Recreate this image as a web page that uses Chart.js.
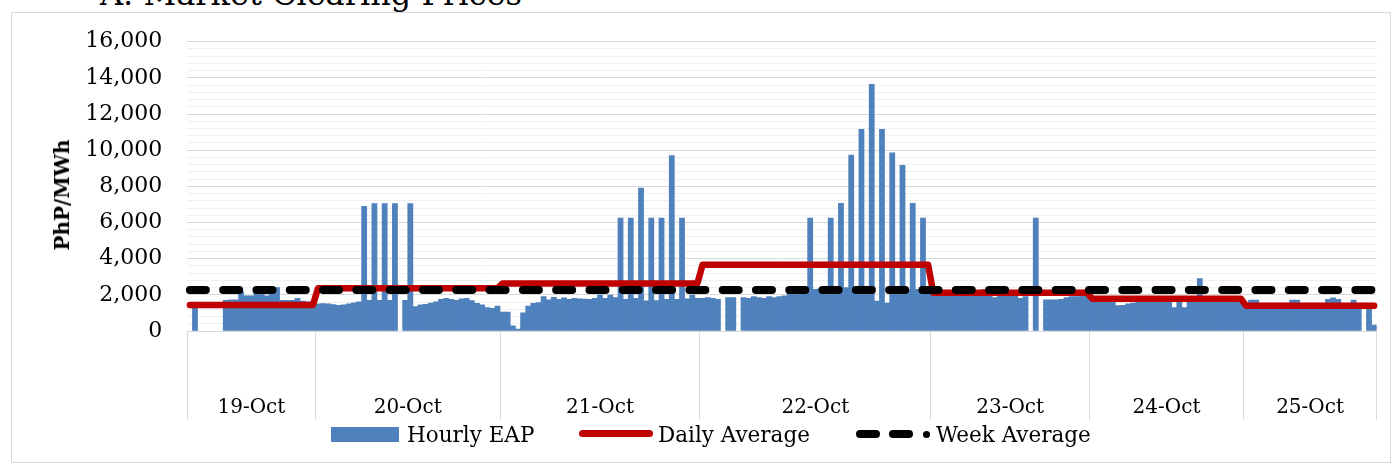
<!DOCTYPE html>
<html>
<head>
<meta charset="utf-8">
<script src="https://cdn.jsdelivr.net/npm/chart.js@4.4.1/dist/chart.umd.min.js"></script>
<style>
html,body{margin:0;padding:0;background:#fff;overflow:hidden;}
#wrap{position:relative;width:1394px;height:465px;overflow:hidden;font-family:"DejaVu Serif",serif;color:#000;}
#frame{position:absolute;left:11px;top:12px;width:1380px;height:451px;border:1px solid #d9d9d9;box-sizing:border-box;}
#title{position:absolute;left:100px;top:-22px;font-size:32px;line-height:32px;white-space:nowrap;}
#c{position:absolute;left:0;top:0;}
#ytitle{position:absolute;left:62px;top:195px;transform:translate(-50%,-50%) rotate(-90deg);font-weight:bold;font-size:20px;line-height:20px;white-space:nowrap;}
.lt{position:absolute;top:424px;font-size:21.5px;line-height:21px;white-space:nowrap;}
.mk{position:absolute;}
</style>
</head>
<body>
<div id="wrap">
  <div id="title">A. Market Clearing Prices</div>
  <div id="frame"></div>
  <canvas id="c" width="1394" height="465"></canvas>
  <div id="ytitle">PhP/MWh</div>
  <div class="mk" style="left:331px;top:427px;width:68px;height:15px;background:#4F81BD;"></div>
  <div class="lt" style="left:407px;">Hourly EAP</div>
  <div class="mk" style="left:579px;top:430px;width:74px;height:7px;border-radius:3.5px;background:#C00000;"></div>
  <div class="lt" style="left:658px;">Daily Average</div>
  <div class="mk" style="left:856px;top:430px;width:24px;height:8px;border-radius:4px;background:#000;"></div>
  <div class="mk" style="left:889px;top:430px;width:24px;height:8px;border-radius:4px;background:#000;"></div>
  <div class="mk" style="left:923px;top:431px;width:7px;height:7px;border-radius:3.5px;background:#000;"></div>
  <div class="lt" style="left:936px;">Week Average</div>
</div>
<script>
// ---- data ----
const dayLabels = ['19-Oct', '20-Oct', '21-Oct', '22-Oct', '23-Oct', '24-Oct', '25-Oct'];

const eap19Oct = [null, 1450, null, null, null, null, null, 1700, 1720, 1720, 2180, 1940, 1940, 2120, 2120,
  1940, 2050, 2400, 1700, 1700, 1700, 1800, 1650, 1620, 1620];
const eap20Oct = [1500, 1520, 1500, 1460, 1420, 1450, 1500, 1560, 1620, 6900, 1700, 7050, 1700, 7050, 1700,
  7050, null, 1700, 7050, 1350, 1450, 1480, 1550, 1620, 1750, 1800, 1750, 1700, 1780, 1800, 1680, 1530,
  1450, 1300, 1250, 1380];
const eap21Oct = [1050, 1050, 280, 110, 1000, 1380, 1530, 1570, 1900, 1720, 1860, 1750, 1840, 1750, 1810,
  1780, 1760, 1750, 1800, 1990, 1800, 1990, 1850, 6250, 1750, 6250, 1800, 7900, 1670, 6250, 1680, 6250,
  1750, 9700, 1750, 6250, 1780, 1990, 1800];
const eap22Oct = [1800, 1850, 1800, 1750, null, 1850, 1850, null, 1850, 1800, 1900, 1850, 1800, 1900, 1850,
  1900, 1950, 2150, 2250, 2300, 2300, 6250, 2300, 2350, 2300, 6250, 2350, 7060, 2400, 9730, 2350, 11150,
  2350, 13640, 1650, 11150, 1550, 9860, 2300, 9160, 2300, 7060, 2300, 6250, 2250];
const eap23Oct = [2150, 2200, 2200, 2150, 2150, 2200, 2200, 2150, 2200, 2250, 2300, 2350, 1850, 2150, 2200,
  2150, 2100, 1800, 1900, null, 6250, null, 1720, 1720, 1720, 1750, 1850, 1900, 1900, 1950, 2000];
const eap24Oct = [1900, 1920, 1900, 1900, 1880, 1400, 1420, 1500, 1550, 1650, 1750, 1800, 1800, 1800, 1850,
  1800, 1300, 1800, 1300, 1850, 1850, 2900, 1850, 1850, 1850, 1850, 1850, 1850, 1850, 1850];
const eap25Oct = [1450, 1715, 1715, 1450, 1400, 1400, 1400, 1400, 1450, 1715, 1715, 1450, 1400, 1400, 1400,
  1400, 1750, 1840, 1750, 1400, 1400, 1715, 1400, null, 1400, 330];

const dailyAverage = [1440, 2360, 2630, 3660, 2120, 1790, 1400];
const weekAverage = 2270;

const yMin = 0, yMax = 16000, yMajorStep = 2000, yMinorStep = 400;

// ---- build the library tables from the arrays ----
const days = [eap19Oct, eap20Oct, eap21Oct, eap22Oct, eap23Oct, eap24Oct, eap25Oct];
const categories = [], hourly = [], dailySeries = [], weekSeries = [];
days.forEach((d, k) => d.forEach((v, j) => {
  categories.push(dayLabels[k] + ' ' + (j + 1));
  hourly.push(v);
  dailySeries.push(dailyAverage[k]);
  weekSeries.push(weekAverage);
}));
const bounds = [0];
days.forEach(d => bounds.push(bounds[bounds.length - 1] + d.length));
const centers = bounds.slice(0, -1).map((b, k) => (b + bounds[k + 1]) / 2);
const yTicks = [];
for (let v = yMin; v <= yMax; v += yMinorStep) yTicks.push(v);

const FONT = 'DejaVu Serif';

new Chart(document.getElementById('c'), {
  type: 'bar',
  data: {
    labels: categories,
    datasets: [
      { type: 'line', label: 'Week Average', data: weekSeries, xAxisID: 'x', yAxisID: 'y',
        borderColor: '#000000', borderWidth: 8, borderDash: [16, 17.3], borderCapStyle: 'round',
        borderJoinStyle: 'round', pointRadius: 0, fill: false, tension: 0, order: 1 },
      { type: 'line', label: 'Daily Average', data: dailySeries, xAxisID: 'x', yAxisID: 'y',
        borderColor: '#C00000', borderWidth: 6.5, borderCapStyle: 'round', borderJoinStyle: 'round',
        pointRadius: 0, fill: false, tension: 0, order: 2 },
      { type: 'bar', label: 'Hourly EAP', data: hourly, xAxisID: 'x', yAxisID: 'y',
        backgroundColor: '#4F81BD', borderWidth: 0, barPercentage: 1, categoryPercentage: 1, order: 3 }
    ]
  },
  options: {
    responsive: false,
    animation: false,
    devicePixelRatio: 1,
    layout: { padding: { left: 0, right: 17.3, top: 41.7, bottom: 0 } },
    plugins: { legend: { display: false }, tooltip: { enabled: false }, title: { display: false } },
    scales: {
      x: { type: 'category', display: false, offset: true, grid: { display: false } },
      days: {
        type: 'linear', position: 'bottom', min: 0, max: hourly.length, offset: false,
        afterBuildTicks: s => {
          s.ticks = bounds.concat(centers).sort((a, b) => a - b).map(v => ({ value: v }));
        },
        afterFit: s => { s.height = 134; },
        ticks: {
          autoSkip: false, maxRotation: 0, minRotation: 0, padding: -24.5, color: '#000',
          font: { family: FONT, size: 20 },
          callback: v => { const k = centers.indexOf(v); return k >= 0 ? dayLabels[k] : ''; }
        },
        grid: {
          offset: false, drawOnChartArea: false, drawTicks: true, tickLength: 89, lineWidth: 1,
          color: c => (c.tick && bounds.includes(c.tick.value)) ? '#d9d9d9' : 'rgba(0,0,0,0)'
        },
        border: { display: true, color: '#d9d9d9', width: 1 }
      },
      y: {
        type: 'linear', min: yMin, max: yMax,
        afterBuildTicks: s => { s.ticks = yTicks.map(v => ({ value: v })); },
        afterFit: s => { s.width = 187.3; },
        ticks: {
          autoSkip: false, padding: 25, color: '#000', font: { family: FONT, size: 22 },
          callback: v => (v % yMajorStep === 0) ? v.toLocaleString('en-US') : ''
        },
        grid: {
          drawTicks: false, lineWidth: 1,
          color: c => (c.tick && c.tick.value % yMajorStep === 0) ? '#d9d9d9' : '#efefef'
        },
        border: { display: false }
      }
    }
  }
});
</script>
</body>
</html>
